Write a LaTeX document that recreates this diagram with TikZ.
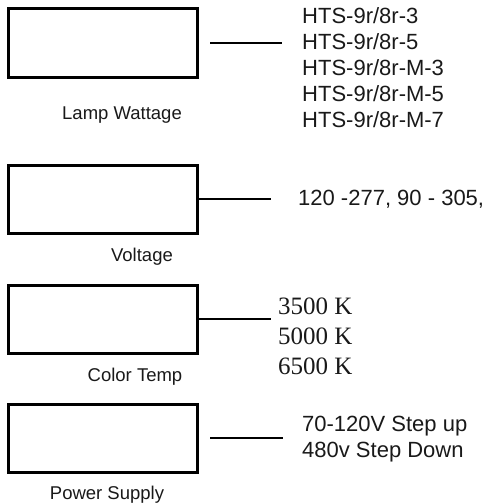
\documentclass[tikz,border=0pt]{standalone}
\usepackage{fontspec}
\setmainfont{Liberation Sans}
\newfontfamily\tnr{Liberation Serif}
\begin{document}
\begin{tikzpicture}[x=1pt,y=-1pt,
  boxnode/.style={draw=black,line width=3pt,minimum width=189pt,minimum height=68pt,inner sep=0pt,outer sep=0pt},
  link/.style={draw=black,line width=2pt},
  optlist/.style={anchor=west,align=left,inner sep=0pt,text=black!90,font=\fontsize{22}{25.8}\selectfont},
  serlist/.style={anchor=west,align=left,inner sep=0pt,text=black!90,font=\tnr\fontsize{25}{30}\selectfont},
  caption/.style={anchor=base,inner sep=0pt,text=black!90,font=\fontsize{18.5}{22}\selectfont}]
\useasboundingbox (0,0) rectangle (488,503);
% boxes
\node[boxnode] (b1) at (103,43) {};
\node[boxnode] (b2) at (103,199) {};
\node[boxnode] (b3) at (103,319) {};
\node[boxnode] (b4) at (103,438) {};
% captions
\node[caption] (c1) at (122,119.5) {Lamp Wattage};
\node[caption] (c2) at (142,261.5) {Voltage};
\node[caption] (c3) at (135,381.5) {Color Temp};
\node[caption] (c4) at (107,499.5) {Power Supply};
% option lists
\node[optlist] (t1) at (302,67.7) {HTS-9r/8r-3\\HTS-9r/8r-5\\HTS-9r/8r-M-3\\HTS-9r/8r-M-5\\HTS-9r/8r-M-7};
\node[optlist] (t2) at (298,199) {120 -277, 90 - 305,};
\node[serlist] (t3) at (278,336.5) {3500 K\\5000 K\\6500 K};
\node[optlist] (t4) at (302,439.2) {70-120V Step up\\480v Step Down};
% connector ends
\coordinate (s1) at (210,43);
\coordinate (e1) at (282,43);
\coordinate (e2) at (271,199);
\coordinate (e3) at (271,319);
\coordinate (s4) at (210,438);
\coordinate (e4) at (283,438);
% connectors
\draw[link] (s1) -- (e1);
\draw[link] (b2.east) -- (e2);
\draw[link] (b3.east) -- (e3);
\draw[link] (s4) -- (e4);
\end{tikzpicture}
\end{document}
